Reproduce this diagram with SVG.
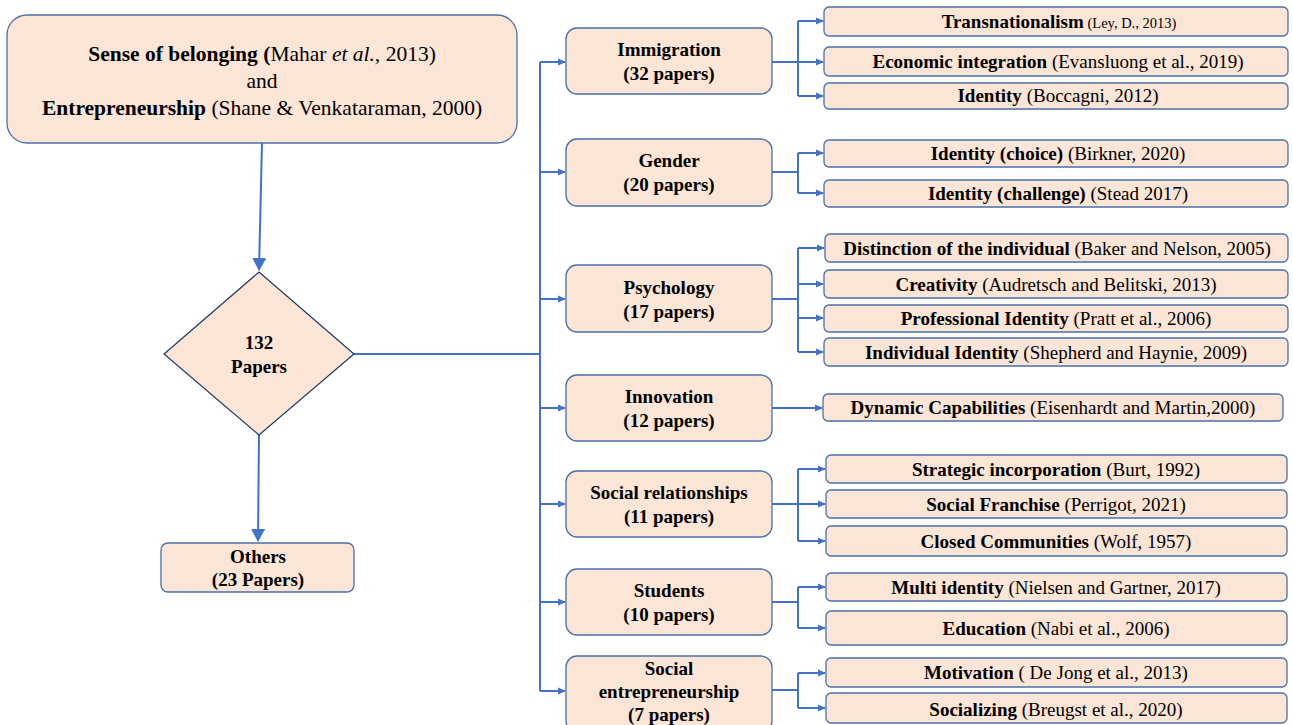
<svg xmlns="http://www.w3.org/2000/svg" width="1293" height="725" viewBox="0 0 1293 725">
<defs>
<marker id="ah" markerWidth="8" markerHeight="8" refX="7" refY="4" orient="auto" markerUnits="userSpaceOnUse">
<path d="M0,0.5 L8,4 L0,7.5 Z" fill="#4472C4"/>
</marker>
<marker id="ahb" markerWidth="14" markerHeight="14" refX="12" refY="7" orient="auto" markerUnits="userSpaceOnUse">
<path d="M0,0 L13,7 L0,14 Z" fill="#4472C4"/>
</marker>
</defs>
<style>
.box{fill:#FBE5D6;stroke:#4A6FA8;stroke-width:1.3}
.dia{fill:#FBE5D6;stroke:#1F3864;stroke-width:1.2}
.c{fill:none;stroke:#4472C4;stroke-width:2}
text{font-family:'Liberation Serif','Times New Roman','DejaVu Serif',serif;font-size:19px;fill:#000;text-anchor:middle}
.b{font-weight:bold}
.big{font-size:21.5px}
</style>
<rect width="1293" height="725" fill="#fff"/>

<g id="connectors">
<path class="c" d="M262,143 L259,270" marker-end="url(#ahb)" stroke-width="2.5"/>
<path class="c" d="M259,435 L258,541" marker-end="url(#ahb)" stroke-width="2.5"/>
<path class="c" d="M354,354 L540,354"/>
<path class="c" d="M540,62 L540,691"/>
<path class="c" d="M540,62 L565,62" marker-end="url(#ah)"/>
<path class="c" d="M540,172 L565,172" marker-end="url(#ah)"/>
<path class="c" d="M540,299 L565,299" marker-end="url(#ah)"/>
<path class="c" d="M540,408 L565,408" marker-end="url(#ah)"/>
<path class="c" d="M540,504 L565,504" marker-end="url(#ah)"/>
<path class="c" d="M540,602 L565,602" marker-end="url(#ah)"/>
<path class="c" d="M540,691 L565,691" marker-end="url(#ah)"/>
<path class="c" d="M772,62 L798,62 M798,21 L798,96"/>
<path class="c" d="M798,21 L823,21" marker-end="url(#ah)"/>
<path class="c" d="M798,62 L823,62" marker-end="url(#ah)"/>
<path class="c" d="M798,96 L823,96" marker-end="url(#ah)"/>
<path class="c" d="M772,172 L798,172 M798,153 L798,193"/>
<path class="c" d="M798,153 L823,153" marker-end="url(#ah)"/>
<path class="c" d="M798,193 L823,193" marker-end="url(#ah)"/>
<path class="c" d="M772,299 L798,299 M798,248 L798,352"/>
<path class="c" d="M798,248 L824,248" marker-end="url(#ah)"/>
<path class="c" d="M798,284 L823,284" marker-end="url(#ah)"/>
<path class="c" d="M798,318 L823,318" marker-end="url(#ah)"/>
<path class="c" d="M798,352 L823,352" marker-end="url(#ah)"/>
<path class="c" d="M772,408 L822,408" marker-end="url(#ah)"/>
<path class="c" d="M772,504 L798,504 M798,469 L798,541"/>
<path class="c" d="M798,469 L825,469" marker-end="url(#ah)"/>
<path class="c" d="M798,504 L825,504" marker-end="url(#ah)"/>
<path class="c" d="M798,541 L825,541" marker-end="url(#ah)"/>
<path class="c" d="M772,602 L798,602 M798,587 L798,628"/>
<path class="c" d="M798,587 L825,587" marker-end="url(#ah)"/>
<path class="c" d="M798,628 L825,628" marker-end="url(#ah)"/>
<path class="c" d="M772,690 L798,690 M798,673 L798,708"/>
<path class="c" d="M798,673 L825,673" marker-end="url(#ah)"/>
<path class="c" d="M798,708 L825,708" marker-end="url(#ah)"/>
</g>

<g id="root">
<rect class="box" x="7" y="15" width="510" height="128" rx="20"/>
<text class="big" x="262" y="61"><tspan class="b">Sense of belonging (</tspan>Mahar <tspan font-style="italic">et al.,</tspan> 2013)</text>
<text class="big" x="262" y="88">and</text>
<text class="big" x="262" y="115"><tspan class="b">Entrepreneurship</tspan> (Shane &amp; Venkataraman, 2000)</text>
</g>

<g id="papers">
<polygon class="dia" points="259,272 354,354 259,435 164,354"/>
<text class="b" x="259" y="349">132</text>
<text class="b" x="259" y="373">Papers</text>
</g>

<g id="others">
<rect class="box" x="161" y="543" width="193" height="49" rx="7"/>
<text class="b" x="258" y="563">Others</text>
<text class="b" x="258" y="586">(23 Papers)</text>
</g>

<g id="immigration">
<rect class="box" x="566" y="28" width="206" height="66" rx="11"/>
<text class="b" x="669" y="56">Immigration</text>
<text class="b" x="669" y="80">(32 papers)</text>
</g>
<g id="gender">
<rect class="box" x="566" y="139" width="206" height="67" rx="11"/>
<text class="b" x="669" y="167">Gender</text>
<text class="b" x="669" y="191">(20 papers)</text>
</g>
<g id="psychology">
<rect class="box" x="566" y="265" width="206" height="67" rx="11"/>
<text class="b" x="669" y="294">Psychology</text>
<text class="b" x="669" y="318">(17 papers)</text>
</g>
<g id="innovation">
<rect class="box" x="566" y="375" width="206" height="66" rx="11"/>
<text class="b" x="669" y="403">Innovation</text>
<text class="b" x="669" y="427">(12 papers)</text>
</g>
<g id="socialrel">
<rect class="box" x="566" y="471" width="206" height="66" rx="11"/>
<text class="b" x="669" y="499">Social relationships</text>
<text class="b" x="669" y="523">(11 papers)</text>
</g>
<g id="students">
<rect class="box" x="566" y="569" width="206" height="66" rx="11"/>
<text class="b" x="669" y="597">Students</text>
<text class="b" x="669" y="621">(10 papers)</text>
</g>
<g id="socialent">
<rect class="box" x="566" y="656" width="206" height="76" rx="11"/>
<text class="b" x="669" y="675">Social</text>
<text class="b" x="669" y="698">entrepreneurship</text>
<text class="b" x="669" y="721">(7 papers)</text>
</g>

<g id="transnationalism">
<rect class="box" x="824" y="7" width="464" height="29" rx="5"/>
<text x="1059" y="28"><tspan class="b">Transnationalism</tspan><tspan font-size="14.5"> (Ley,  D., 2013)</tspan></text>
</g>
<g id="econ">
<rect class="box" x="824" y="47" width="464" height="29" rx="5"/>
<text x="1058" y="68"><tspan class="b">Economic integration</tspan>  (Evansluong et al., 2019)</text>
</g>
<g id="identity1">
<rect class="box" x="824" y="83" width="464" height="26" rx="5"/>
<text x="1058" y="102"><tspan class="b">Identity</tspan>  (Boccagni, 2012)</text>
</g>
<g id="idchoice">
<rect class="box" x="824" y="140" width="464" height="27" rx="5"/>
<text x="1058" y="160"><tspan class="b">Identity (choice)</tspan> (Birkner, 2020)</text>
</g>
<g id="idchallenge">
<rect class="box" x="824" y="180" width="464" height="27" rx="5"/>
<text x="1058" y="200"><tspan class="b">Identity (challenge)</tspan> (Stead 2017)</text>
</g>
<g id="distinction">
<rect class="box" x="825" y="234" width="463" height="28" rx="5"/>
<text x="1057" y="255"><tspan class="b">Distinction of the individual</tspan>  (Baker and Nelson, 2005)</text>
</g>
<g id="creativity">
<rect class="box" x="824" y="270" width="464" height="28" rx="5"/>
<text x="1056" y="291"><tspan class="b">Creativity</tspan>  (Audretsch and Belitski, 2013)</text>
</g>
<g id="profid">
<rect class="box" x="824" y="305" width="464" height="27" rx="5"/>
<text x="1056" y="325"><tspan class="b">Professional Identity</tspan> (Pratt et al., 2006)</text>
</g>
<g id="indid">
<rect class="box" x="824" y="338" width="464" height="28" rx="5"/>
<text x="1056" y="359"><tspan class="b">Individual Identity</tspan> (Shepherd and Haynie, 2009)</text>
</g>
<g id="dynamic">
<rect class="box" x="823" y="394" width="460" height="27" rx="5"/>
<text x="1053" y="414"><tspan class="b">Dynamic Capabilities</tspan> (Eisenhardt and Martin,2000)</text>
</g>
<g id="strategic">
<rect class="box" x="826" y="455" width="461" height="28" rx="5"/>
<text x="1056" y="476"><tspan class="b">Strategic incorporation</tspan> (Burt, 1992)</text>
</g>
<g id="franchise">
<rect class="box" x="826" y="490" width="461" height="28" rx="5"/>
<text x="1056" y="511"><tspan class="b">Social Franchise</tspan> (Perrigot, 2021)</text>
</g>
<g id="closed">
<rect class="box" x="826" y="526" width="461" height="30" rx="5"/>
<text x="1056" y="548"><tspan class="b">Closed Communities</tspan> (Wolf, 1957)</text>
</g>
<g id="multi">
<rect class="box" x="826" y="573" width="461" height="28" rx="5"/>
<text x="1056" y="594"><tspan class="b">Multi identity</tspan> (Nielsen and Gartner, 2017)</text>
</g>
<g id="education">
<rect class="box" x="826" y="611" width="461" height="34" rx="5"/>
<text x="1056" y="635"><tspan class="b">Education</tspan> (Nabi et al., 2006)</text>
</g>
<g id="motivation">
<rect class="box" x="826" y="658" width="461" height="29" rx="5"/>
<text x="1056" y="679"><tspan class="b">Motivation</tspan> ( De Jong et al., 2013)</text>
</g>
<g id="socializing">
<rect class="box" x="826" y="693" width="461" height="30" rx="5"/>
<text x="1056" y="716"><tspan class="b">Socializing</tspan> (Breugst et al., 2020)</text>
</g>
</svg>
